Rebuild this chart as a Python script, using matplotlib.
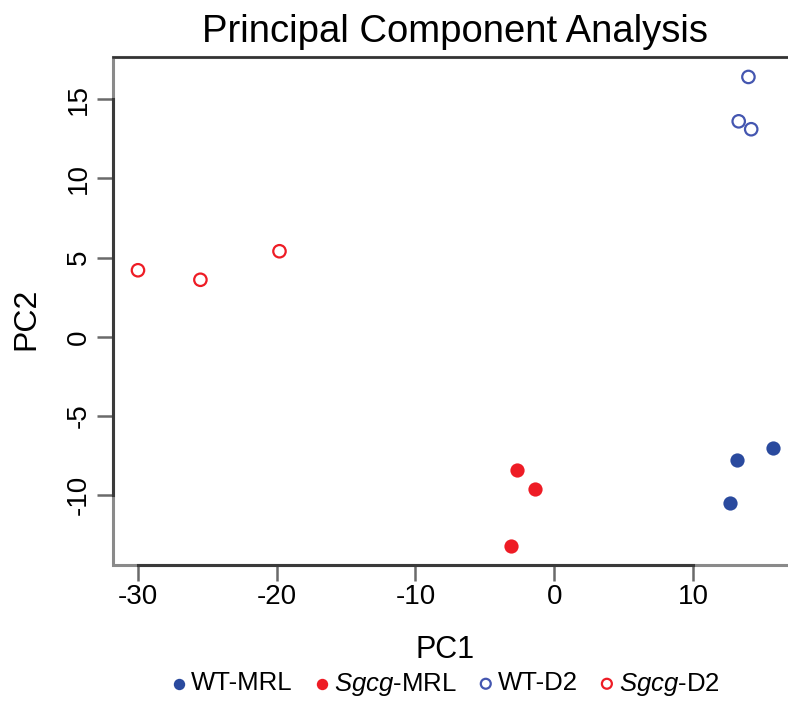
import matplotlib
matplotlib.use('Agg')
import matplotlib.pyplot as plt

plt.rcParams['font.family'] = ['Liberation Sans', 'DejaVu Sans']
plt.rcParams['mathtext.fontset'] = 'custom'
plt.rcParams['mathtext.rm'] = 'Liberation Sans'
plt.rcParams['mathtext.it'] = 'Liberation Sans:italic'

# PCA scores
wt_mrl_pc1 = [13.2, 15.8, 12.7]
wt_mrl_pc2 = [-7.8, -7.0, -10.5]
sgcg_mrl_pc1 = [-2.7, -1.4, -3.1]
sgcg_mrl_pc2 = [-8.4, -9.6, -13.2]
wt_d2_pc1 = [14.0, 13.3, 14.2]
wt_d2_pc2 = [16.4, 13.6, 13.1]
sgcg_d2_pc1 = [-30.0, -25.5, -19.8]
sgcg_d2_pc2 = [4.2, 3.6, 5.4]

x_ticks = [-30, -20, -10, 0, 10]
y_ticks = [-10, -5, 0, 5, 10, 15]

blue = '#2a4a9e'
blue_open = '#4456b0'
red = '#ee1c25'

fig = plt.figure(figsize=(7.88, 7.03), dpi=100)
ax = fig.add_axes([0.1434, 0.1963, 0.868, 0.7222])

ax.scatter(wt_mrl_pc1, wt_mrl_pc2, s=105, color=blue, linewidths=0,
           label='WT-MRL', zorder=3)
ax.scatter(sgcg_mrl_pc1, sgcg_mrl_pc2, s=105, color=red, linewidths=0,
           label=r'$\it{Sgcg}$-MRL', zorder=3)
ax.scatter(wt_d2_pc1, wt_d2_pc2, s=80, facecolors='none', edgecolors=blue_open,
           linewidths=1.6, label='WT-D2', zorder=3)
ax.scatter(sgcg_d2_pc1, sgcg_d2_pc2, s=80, facecolors='none', edgecolors=red,
           linewidths=1.6, label=r'$\it{Sgcg}$-D2', zorder=3)

ax.set_xlim(-31.8, 17.5)
ax.set_ylim(-14.4, 17.64)
ax.set_xticks(x_ticks)
ax.set_yticks(y_ticks)
ax.set_xticklabels([str(v) for v in x_ticks])
ax.set_yticklabels([str(v) for v in y_ticks], rotation=90, va='center')

# R-style box: grey frame plus dark axis lines between first and last tick
ax.patch.set_edgecolor('#8a8a8a')
ax.patch.set_linewidth(2.2)
ax.spines['right'].set_visible(False)
ax.spines['top'].set_color('#333333')
ax.spines['top'].set_linewidth(1.8)
for side in ['left', 'bottom']:
    ax.spines[side].set_color('#3a3a3a')
    ax.spines[side].set_linewidth(2.2)
ax.spines['bottom'].set_bounds(x_ticks[0], x_ticks[-1])
ax.spines['left'].set_bounds(y_ticks[0], y_ticks[-1])

ax.tick_params(axis='both', length=11.5, width=1.8, color='#6a6a6a',
               labelsize=20, labelcolor='black')
ax.tick_params(axis='x', pad=2)
ax.tick_params(axis='y', pad=4)

ax.set_xlabel('PC1', fontsize=22, labelpad=18)
ax.xaxis.label.set_x(0.485)
ax.set_ylabel('PC2', fontsize=23, labelpad=17)
ax.yaxis.label.set_y(0.4845)
ax.set_title('Principal Component Analysis', fontsize=27.5, pad=11)

fig.legend(loc='center', bbox_to_anchor=(446 / 788, 1 - 684 / 703), ncol=4,
           frameon=False, fontsize=18.5, handlelength=0.55, handletextpad=0.2,
           columnspacing=0.85, borderaxespad=0, scatterpoints=1,
           markerscale=0.8)

fig.savefig('out.png', dpi=100)
